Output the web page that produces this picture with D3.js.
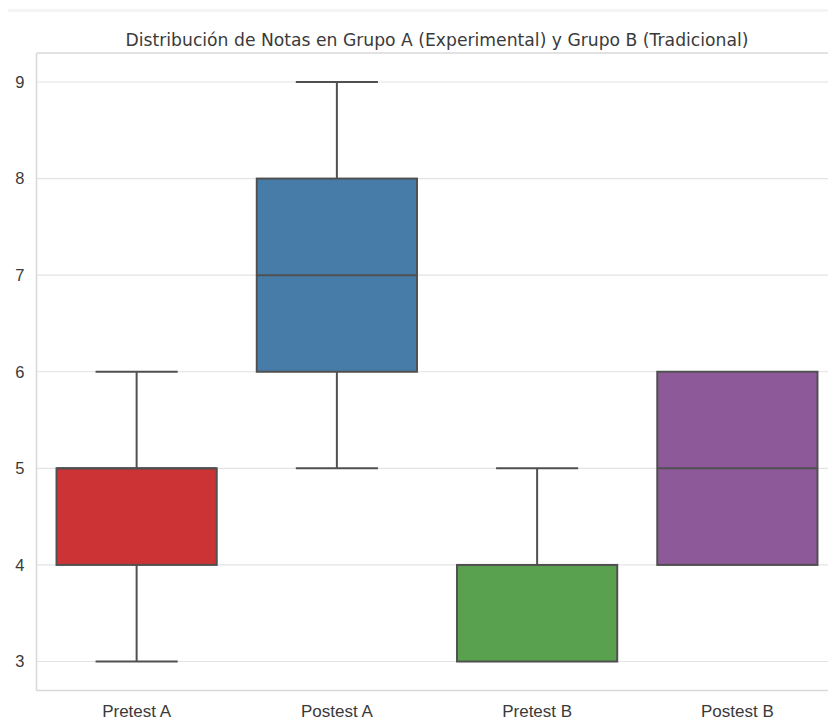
<!DOCTYPE html>
<html>
<head>
<meta charset="utf-8">
<script src="https://cdn.jsdelivr.net/npm/d3@7"></script>
<style>
  html, body { margin: 0; padding: 0; background: #fff; }
  svg { display: block; }
</style>
</head>
<body>
<div id="chart"></div>
<script>
// ---- Data ----
const categories = ["Pretest A", "Postest A", "Pretest B", "Postest B"];
const whiskerLow = [3, 5, 3, 4];
const q1Values   = [4, 6, 3, 4];
const medians    = [5, 7, 4, 5];
const q3Values   = [5, 8, 4, 6];
const whiskerHigh = [6, 9, 5, 6];
const boxColors  = ["#CB3335", "#477CA8", "#59A14F", "#8E5998"];
const yTickValues = [3, 4, 5, 6, 7, 8, 9];
const titleText = "Distribución de Notas en Grupo A (Experimental) y Grupo B (Tradicional)";

const W = 828, H = 720;
const plot = { left: 36.5, right: 837.5, top: 53, bottom: 690.5 };

const svg = d3.select("#chart").append("svg")
  .attr("width", W).attr("height", H)
  .style("font-family", "'DejaVu Sans', sans-serif");

// faint notebook border artifact at top
svg.append("rect").attr("x", 8).attr("y", 9).attr("width", W - 8).attr("height", 3)
  .attr("fill", "#f4f4f4");

const x = d3.scaleBand().domain(categories).range([plot.left, plot.right]).padding(0);
const y = d3.scaleLinear().domain([2.7, 9.3]).range([plot.bottom, plot.top]);

// gridlines
svg.append("g").selectAll("line").data(yTickValues).join("line")
  .attr("x1", plot.left).attr("x2", plot.right)
  .attr("y1", d => y(d)).attr("y2", d => y(d))
  .attr("stroke", "#e3e3e3").attr("stroke-width", 1.2);

// spines (left, bottom, top)
const spineColor = "#d9d9d9";
svg.append("line").attr("x1", plot.left).attr("x2", plot.left)
  .attr("y1", plot.top).attr("y2", plot.bottom)
  .attr("stroke", spineColor).attr("stroke-width", 1.6);
svg.append("line").attr("x1", plot.left).attr("x2", plot.right)
  .attr("y1", plot.bottom).attr("y2", plot.bottom)
  .attr("stroke", spineColor).attr("stroke-width", 1.6);
svg.append("line").attr("x1", plot.left).attr("x2", plot.right)
  .attr("y1", plot.top).attr("y2", plot.top)
  .attr("stroke", spineColor).attr("stroke-width", 1.6);

// boxes
const bw = x.bandwidth();
const boxW = bw * 0.8, capW = bw * 0.41;
const lineColor = "#505050";
const rows = categories.map((c, i) => ({
  c, lo: whiskerLow[i], q1: q1Values[i], med: medians[i], q3: q3Values[i], hi: whiskerHigh[i], color: boxColors[i]
}));

const g = svg.append("g");
rows.forEach(d => {
  const cx = x(d.c) + bw / 2;
  const gg = g.append("g");
  if (d.lo < d.q1) {
    gg.append("line").attr("x1", cx).attr("x2", cx).attr("y1", y(d.q1)).attr("y2", y(d.lo))
      .attr("stroke", lineColor).attr("stroke-width", 2);
    gg.append("line").attr("x1", cx - capW / 2).attr("x2", cx + capW / 2).attr("y1", y(d.lo)).attr("y2", y(d.lo))
      .attr("stroke", lineColor).attr("stroke-width", 2);
  }
  if (d.hi > d.q3) {
    gg.append("line").attr("x1", cx).attr("x2", cx).attr("y1", y(d.q3)).attr("y2", y(d.hi))
      .attr("stroke", lineColor).attr("stroke-width", 2);
    gg.append("line").attr("x1", cx - capW / 2).attr("x2", cx + capW / 2).attr("y1", y(d.hi)).attr("y2", y(d.hi))
      .attr("stroke", lineColor).attr("stroke-width", 2);
  }
  gg.append("rect").attr("x", cx - boxW / 2).attr("width", boxW)
    .attr("y", y(d.q3)).attr("height", y(d.q1) - y(d.q3))
    .attr("fill", d.color).attr("stroke", lineColor).attr("stroke-width", 2);
  gg.append("line").attr("x1", cx - boxW / 2).attr("x2", cx + boxW / 2)
    .attr("y1", y(d.med)).attr("y2", y(d.med))
    .attr("stroke", lineColor).attr("stroke-width", 2);
});

// axes
const textColor = "#3a3a3a";
const yAxis = d3.axisLeft(y).tickValues(yTickValues).tickSize(0).tickPadding(12).tickFormat(d3.format("d"));
const yg = svg.append("g").attr("transform", `translate(${plot.left},0)`).call(yAxis);
yg.select(".domain").remove();
yg.selectAll("text").attr("fill", textColor).style("font-size", "16.5px");

const xAxis = d3.axisBottom(x).tickSize(0).tickPadding(14);
const xg = svg.append("g").attr("transform", `translate(0,${plot.bottom})`).call(xAxis);
xg.select(".domain").remove();
xg.selectAll("text").attr("fill", textColor).style("font-size", "17px");

// title
svg.append("text").attr("x", (plot.left + plot.right) / 2).attr("y", 46)
  .attr("text-anchor", "middle").attr("fill", textColor).style("font-size", "17.2px")
  .text(titleText);
</script>
</body>
</html>
